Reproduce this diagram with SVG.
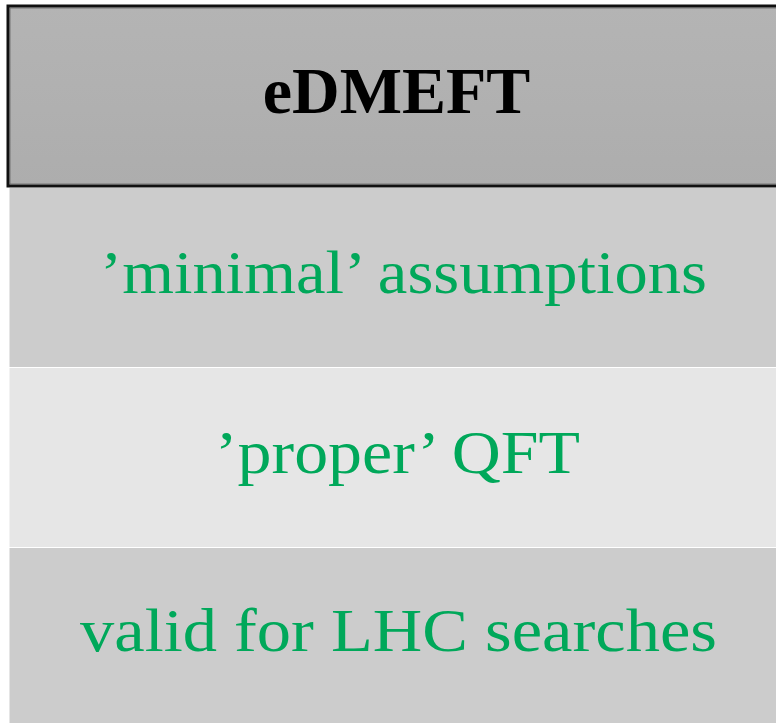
<svg xmlns="http://www.w3.org/2000/svg" width="776" height="723" viewBox="0 0 776 723">
  <defs>
    <linearGradient id="hdr" x1="0" y1="0" x2="0" y2="1">
      <stop offset="0" stop-color="#b4b4b4"/>
      <stop offset="1" stop-color="#adadad"/>
    </linearGradient>
    <style>
      .green { font-family: "Liberation Serif", "DejaVu Serif", serif; font-size: 62px; fill: #00a85a; text-anchor: middle; }
      .title { font-family: "Liberation Serif", "DejaVu Serif", serif; font-size: 66px; font-weight: bold; fill: #000; text-anchor: middle; }
      .dark { fill: #cccccc; }
      .light { fill: #e6e6e6; }
    </style>
  </defs>
  <rect width="776" height="723" fill="#ffffff"/>
  <g id="header">
    <rect x="8" y="6" width="790" height="180" fill="url(#hdr)" stroke="#111" stroke-width="3"/>
    <rect x="10" y="8" width="790" height="176" fill="none" stroke="#666" stroke-width="0.8"/>
    <text class="title" x="396.5" y="113">eDMEFT</text>
  </g>
  <g id="row-minimal">
    <rect class="dark" x="9.5" y="188" width="770" height="179"/>
    <text class="green" x="403.5" y="293" textLength="607" lengthAdjust="spacingAndGlyphs">’minimal’ assumptions</text>
  </g>
  <g id="row-proper">
    <rect class="light" x="9.5" y="368" width="770" height="179"/>
    <text class="green" x="397.5" y="473" textLength="365" lengthAdjust="spacingAndGlyphs">’proper’ QFT</text>
  </g>
  <g id="row-valid">
    <rect class="dark" x="9.5" y="548" width="770" height="176"/>
    <text class="green" x="398.5" y="651" textLength="637" lengthAdjust="spacingAndGlyphs">valid for LHC searches</text>
  </g>
</svg>
